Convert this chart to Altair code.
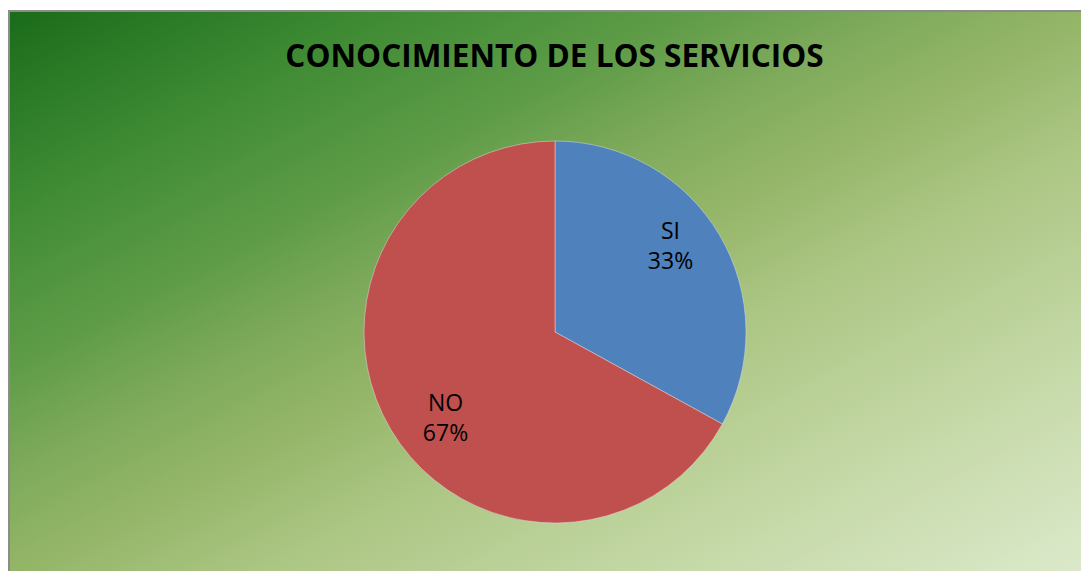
import altair as alt
import pandas as pd

# --- data ---
categories = ["SI", "NO"]
values = [33, 67]
order = [1, 2]
slice_colors = ["#4f81bd", "#c0504d"]
title_text = "CONOCIMIENTO DE LOS SERVICIOS"

W, H = 1073, 563
CX, CY, R = 547, 324, 191
TOTAL = sum(values)

df = pd.DataFrame({"cat": categories, "val": values, "ord": order})
one = pd.DataFrame({"k": [0]})

grad = alt.LinearGradient(
    gradient="linear",
    stops=[
        alt.GradientStop(offset=0.0, color="#1a6b1a"),
        alt.GradientStop(offset=0.17, color="#3d8a33"),
        alt.GradientStop(offset=0.32, color="#5f9c48"),
        alt.GradientStop(offset=0.42, color="#80ab5c"),
        alt.GradientStop(offset=0.5, color="#93b567"),
        alt.GradientStop(offset=0.62, color="#acc684"),
        alt.GradientStop(offset=0.8, color="#c4d8a6"),
        alt.GradientStop(offset=1.0, color="#dbe9ca"),
    ],
    x1=0, y1=0, x2=1, y2=1,
)

bg = alt.Chart(one).mark_rect(fill=grad, strokeWidth=0).encode(
    x=alt.value(1), x2=alt.value(W), y=alt.value(3), y2=alt.value(H)
)
border_left = alt.Chart(one).mark_rule(color="#8c8c8c", strokeWidth=2).encode(
    x=alt.value(1), y=alt.value(3), y2=alt.value(H)
)
border_top = alt.Chart(one).mark_rule(color="#8c8c8c", strokeWidth=2).encode(
    x=alt.value(0), x2=alt.value(W), y=alt.value(3)
)

title = alt.Chart(one).mark_text(
    text=title_text, font="Open Sans", fontWeight="bold",
    fontSize=31.5, align="center", baseline="alphabetic", color="#000000"
).encode(x=alt.value(546.5), y=alt.value(59))

theta_scale = alt.Scale(domain=[0, TOTAL])

pie = alt.Chart(df).mark_arc(outerRadius=R, stroke="#dddddd", strokeWidth=0.5).encode(
    theta=alt.Theta("val:Q", stack=True, scale=theta_scale),
    order=alt.Order("ord:Q"),
    color=alt.Color("cat:N", scale=alt.Scale(domain=categories, range=slice_colors), legend=None),
    x=alt.value(CX), y=alt.value(CY),
)

def label(cat, dx, dy):
    return alt.Chart(df).transform_window(
        cum="sum(val)", sort=[alt.SortField("ord")], frame=[None, 0]
    ).transform_calculate(
        mid="datum.cum - datum.val / 2",
        lab="datum.cat + '\\n' + datum.val + '%'",
    ).transform_filter(
        alt.datum.cat == cat
    ).mark_text(
        radius=140, font="Open Sans", fontSize=23, lineBreak="\n", lineHeight=30,
        align="center", baseline="alphabetic", color="#000000", dx=dx, dy=dy
    ).encode(
        theta=alt.Theta("mid:Q", stack=None, scale=theta_scale),
        text="lab:N", x=alt.value(CX), y=alt.value(CY)
    )

lab_si = label("SI", -5, -22)
lab_no = label("NO", 11, 8)

chart = alt.layer(bg, border_left, border_top, title, pie, lab_si, lab_no).properties(
    width=W, height=H, padding=0, autosize=alt.AutoSizeParams(type="none")
).configure_view(stroke=None)

chart.save("out.html", embed_options={"renderer": "svg", "actions": False})
